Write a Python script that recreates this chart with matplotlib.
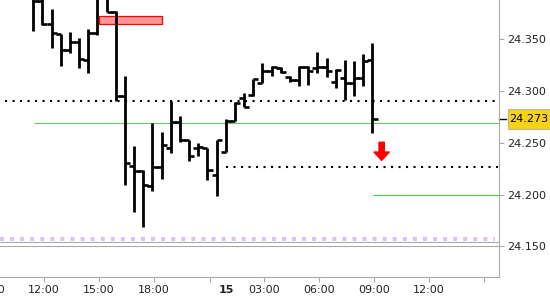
import matplotlib
matplotlib.use('Agg')
import matplotlib.pyplot as plt
import numpy as np
from matplotlib.patches import Rectangle
from matplotlib.transforms import blended_transform_factory

# 30-minute OHLC bars
opens = [24.391, 24.387, 24.365, 24.355, 24.340, 24.347, 24.330, 24.356, 24.390, 24.376,
         24.295, 24.228, 24.223, 24.208, 24.227, 24.245, 24.270, 24.253, 24.245, 24.245,
         24.219, 24.241, 24.271, 24.293, 24.296, 24.308, 24.319, 24.322, 24.314, 24.311,
         24.323, 24.322, 24.323, 24.309, 24.313, 24.308, 24.313, 24.330]
highs = [24.396, 24.393, 24.379, 24.355, 24.357, 24.351, 24.360, 24.393, 24.393, 24.377,
         24.315, 24.247, 24.224, 24.269, 24.260, 24.290, 24.276, 24.253, 24.250, 24.245,
         24.253, 24.273, 24.289, 24.298, 24.312, 24.327, 24.324, 24.323, 24.315, 24.324,
         24.324, 24.338, 24.332, 24.321, 24.330, 24.329, 24.336, 24.346]
lows = [24.358, 24.364, 24.342, 24.324, 24.337, 24.322, 24.317, 24.354, 24.376, 24.290,
        24.209, 24.183, 24.169, 24.203, 24.215, 24.240, 24.251, 24.232, 24.237, 24.214,
        24.199, 24.241, 24.271, 24.285, 24.295, 24.308, 24.315, 24.317, 24.309, 24.305,
        24.306, 24.317, 24.314, 24.303, 24.291, 24.295, 24.305, 24.259]
closes = [24.387, 24.365, 24.356, 24.340, 24.347, 24.331, 24.356, 24.389, 24.376, 24.295,
          24.230, 24.223, 24.209, 24.227, 24.248, 24.270, 24.253, 24.237, 24.246, 24.224,
          24.253, 24.271, 24.288, 24.285, 24.312, 24.319, 24.323, 24.318, 24.311, 24.323,
          24.319, 24.323, 24.319, 24.320, 24.308, 24.313, 24.329, 24.273]

time_ticks = [1.17, 7.17, 13.17, 19.26, 25.16, 31.16, 37.16, 43.16, 49.16]
time_labels = ['12:00', '15:00', '18:00', '', '03:00', '06:00', '09:00', '12:00', '']
day_pos, day_label = 21.1, '15'
prev_pos, prev_label = -4.83, '09:00'
price_ticks = [24.15, 24.20, 24.25, 24.30, 24.35]

resistance = 24.290
support, support_start = 24.227, 21.0
pivot, pivot_start = 24.269, 0.08
target, target_start = 24.1995, 37.1
purple_level = 24.1575
gray_levels = [24.154, 24.150]
zone_x = (7.2, 14.0)
zone_y = (24.3645, 24.3728)
arrow_x, arrow_top, arrow_tip = 38, 24.2505, 24.233

x_min, x_max = -3.63, 50.8
y_min, y_max = 24.1203, 24.388

fig = plt.figure(figsize=(5.5, 3), dpi=100)
ax = fig.add_axes([0, 23 / 300, 499 / 550, 277 / 300])
ax.set_xlim(x_min, x_max)
ax.set_ylim(y_min, y_max)

# reference levels
for lv in gray_levels:
    ax.axhline(lv, color='#aaaaaa', lw=0.8)
ax.hlines(purple_level, x_min, 50.35, color='#dcc3f0', lw=2.9, linestyles=[(0, (1, 1.5))])
ax.hlines(resistance, -3.09, 50.35, color='black', lw=1.5, linestyles=[(0, (1, 2.6))])
ax.hlines(support, support_start, x_max, color='black', lw=1.5, linestyles=[(0, (1, 2.6))])
ax.hlines(pivot, pivot_start, x_max, color='#6cc46c', lw=0.8)
ax.hlines(target, target_start, x_max, color='#3ccc3c', lw=0.8)

ax.add_patch(Rectangle((zone_x[0], zone_y[0]), zone_x[1] - zone_x[0], zone_y[1] - zone_y[0],
                       facecolor='#ff9494', edgecolor='red', lw=0.9, zorder=3))

# OHLC bars
x = np.arange(len(opens))
ax.vlines(x, lows, highs, color='black', lw=2.0, zorder=4)
ax.hlines(opens, x - 0.55, x, color='black', lw=1.9, zorder=4)
ax.hlines(closes, x, x + 0.55, color='black', lw=1.9, zorder=4)

ax.annotate('', xy=(arrow_x, arrow_tip), xytext=(arrow_x, arrow_top),
            arrowprops=dict(arrowstyle='simple,head_length=0.6,head_width=1.1,tail_width=0.38',
                            color='red', mutation_scale=10, shrinkA=0, shrinkB=0))

# axes styling
for s in ['top', 'left']:
    ax.spines[s].set_visible(False)
for s in ['right', 'bottom']:
    ax.spines[s].set_color('#aaaaaa')
ax.yaxis.tick_right()
ax.set_yticks(price_ticks, [f'{p:.3f}' for p in price_ticks])
ax.set_xticks(time_ticks, time_labels)
ax.tick_params(axis='both', colors='#aaaaaa', labelcolor='#222222', labelsize=8, length=3.6)
ax.tick_params(axis='x', pad=2)
ax.tick_params(axis='y', pad=2.2)

bx = blended_transform_factory(ax.transData, ax.transAxes)
ax.annotate(day_label, xy=(day_pos, 0), xycoords=bx, xytext=(0, -5.6), textcoords='offset points',
            ha='center', va='top', fontsize=8, fontweight='bold', color='#222222',
            annotation_clip=False)
ax.annotate(prev_label, xy=(prev_pos, 0), xycoords=bx, xytext=(0, -5.6), textcoords='offset points',
            ha='center', va='top', fontsize=8, color='#222222', annotation_clip=False)

# current price label
last = closes[-1]
by = blended_transform_factory(ax.transAxes, ax.transData)
ax.plot([1.0, 1.014], [last, last], transform=by, color='black', lw=1, clip_on=False)
ax.add_patch(Rectangle((1.018, last - 0.0097), 0.084, 0.0194, transform=by, clip_on=False,
                       facecolor='#f7d21a', edgecolor='#c0b890', lw=0.8))
ax.text(1.06, last, f'{last:.3f}', transform=by, ha='center', va='center', fontsize=8,
        color='black', clip_on=False)

plt.savefig('out.png', dpi=100)
